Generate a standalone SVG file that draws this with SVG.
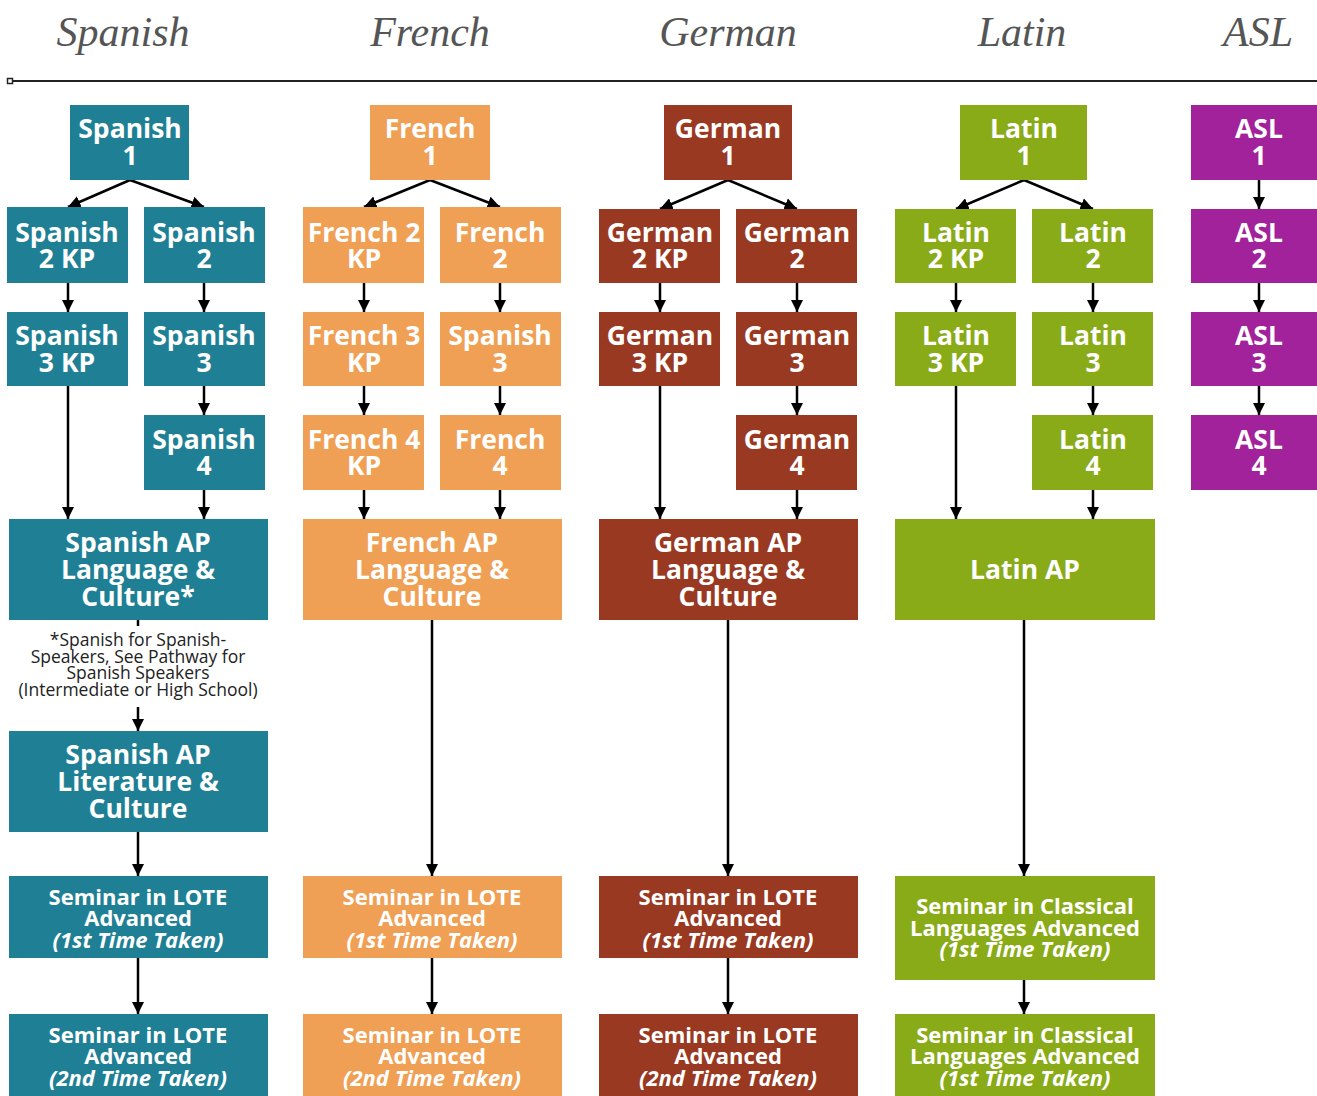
<svg xmlns="http://www.w3.org/2000/svg" width="1317" height="1096" viewBox="0 0 1317 1096">
<defs>
<marker id="ah" viewBox="0 0 10 10" refX="10" refY="5" markerWidth="5" markerHeight="5" orient="auto" markerUnits="strokeWidth">
<path d="M0,0 L10,5 L0,10 z" fill="#000"/>
</marker>
<style>
.sp{fill:#1f7f94}.fr{fill:#f0a055}.ge{fill:#993921}.la{fill:#8aab18}.as{fill:#a1229b}
.t{font-family:"Open Sans","Noto Sans",sans-serif;font-weight:700;font-size:26.5px;fill:#fff;text-anchor:middle}
.s{font-family:"Open Sans","Noto Sans",sans-serif;font-weight:700;font-size:22px;fill:#fff;text-anchor:middle}
.i{font-style:italic}
.h{font-family:"Liberation Serif","DejaVu Serif",serif;font-style:italic;font-size:42px;fill:#555;text-anchor:middle}
.n{font-family:"Open Sans","Noto Sans",sans-serif;font-size:17.5px;fill:#222;text-anchor:middle}
.c line{stroke:#000;stroke-width:2.5;marker-end:url(#ah)}
</style>
</defs>
<rect width="1317" height="1096" fill="#fff"/>
<g id="headers">
<text class="h" x="123" y="46">Spanish</text>
<text class="h" x="430" y="46">French</text>
<text class="h" x="728" y="46">German</text>
<text class="h" x="1022" y="46">Latin</text>
<text class="h" x="1258" y="46">ASL</text>
<line x1="10" y1="81" x2="1317" y2="81" stroke="#222" stroke-width="2"/>
<rect x="7.5" y="78.5" width="5" height="5" fill="#fff" stroke="#222" stroke-width="1.5"/>
</g>
<g class="c" id="connectors">
<line x1="130" y1="180" x2="68" y2="207"/><line x1="130" y1="180" x2="204" y2="207"/>
<line x1="68" y1="283" x2="68" y2="312"/><line x1="204" y1="283" x2="204" y2="312"/>
<line x1="204" y1="386" x2="204" y2="415"/>
<line x1="68" y1="386" x2="68" y2="519"/><line x1="204" y1="490" x2="204" y2="519"/>
<line x1="138" y1="620" x2="138" y2="626" style="marker-end:none"/>
<line x1="138" y1="707" x2="138" y2="731"/>
<line x1="138" y1="832" x2="138" y2="876"/>
<line x1="138" y1="958" x2="138" y2="1014"/>
<line x1="430" y1="180" x2="364" y2="207"/><line x1="430" y1="180" x2="500" y2="207"/>
<line x1="364" y1="283" x2="364" y2="312"/><line x1="500" y1="283" x2="500" y2="312"/>
<line x1="364" y1="386" x2="364" y2="415"/><line x1="500" y1="386" x2="500" y2="415"/>
<line x1="364" y1="490" x2="364" y2="519"/><line x1="500" y1="490" x2="500" y2="519"/>
<line x1="432" y1="620" x2="432" y2="876"/>
<line x1="432" y1="958" x2="432" y2="1014"/>
<line x1="728" y1="180" x2="660" y2="209"/><line x1="728" y1="180" x2="797" y2="209"/>
<line x1="660" y1="283" x2="660" y2="312"/><line x1="797" y1="283" x2="797" y2="312"/>
<line x1="797" y1="386" x2="797" y2="415"/>
<line x1="660" y1="386" x2="660" y2="519"/><line x1="797" y1="490" x2="797" y2="519"/>
<line x1="728" y1="620" x2="728" y2="876"/>
<line x1="728" y1="958" x2="728" y2="1014"/>
<line x1="1024" y1="180" x2="956" y2="209"/><line x1="1024" y1="180" x2="1093" y2="209"/>
<line x1="956" y1="283" x2="956" y2="312"/><line x1="1093" y1="283" x2="1093" y2="312"/>
<line x1="1093" y1="386" x2="1093" y2="415"/>
<line x1="956" y1="386" x2="956" y2="519"/><line x1="1093" y1="490" x2="1093" y2="519"/>
<line x1="1024" y1="620" x2="1024" y2="876"/>
<line x1="1024" y1="980" x2="1024" y2="1014"/>
<line x1="1259" y1="180" x2="1259" y2="209"/><line x1="1259" y1="283" x2="1259" y2="312"/><line x1="1259" y1="386" x2="1259" y2="415"/>
</g>
<!-- Spanish -->
<g id="spanish1"><rect class="sp" x="70" y="105" width="119" height="75"/><text class="t" x="130" y="138">Spanish</text><text class="t" x="130" y="165">1</text></g>
<g id="spanish2kp"><rect class="sp" x="7" y="207" width="121" height="76"/><text class="t" x="67" y="242">Spanish</text><text class="t" x="67" y="268">2 KP</text></g>
<g id="spanish2"><rect class="sp" x="144" y="207" width="121" height="76"/><text class="t" x="204" y="242">Spanish</text><text class="t" x="204" y="268">2</text></g>
<g id="spanish3kp"><rect class="sp" x="7" y="312" width="121" height="74"/><text class="t" x="67" y="345">Spanish</text><text class="t" x="67" y="372">3 KP</text></g>
<g id="spanish3"><rect class="sp" x="144" y="312" width="121" height="74"/><text class="t" x="204" y="345">Spanish</text><text class="t" x="204" y="372">3</text></g>
<g id="spanish4"><rect class="sp" x="144" y="415" width="121" height="75"/><text class="t" x="204" y="449">Spanish</text><text class="t" x="204" y="475">4</text></g>
<g id="spanishAP"><rect class="sp" x="9" y="519" width="259" height="101"/><text class="t" x="138" y="552">Spanish AP</text><text class="t" x="138" y="579">Language &amp;</text><text class="t" x="138" y="606">Culture*</text></g>
<g id="note"><text class="n" x="138" y="646">*Spanish for Spanish-</text><text class="n" x="138" y="663">Speakers, See Pathway for</text><text class="n" x="138" y="679">Spanish Speakers</text><text class="n" x="138" y="696">(Intermediate or High School)</text></g>
<g id="spanishLit"><rect class="sp" x="9" y="731" width="259" height="101"/><text class="t" x="138" y="764">Spanish AP</text><text class="t" x="138" y="791">Literature &amp;</text><text class="t" x="138" y="818">Culture</text></g>
<g id="spanishSem1"><rect class="sp" x="9" y="876" width="259" height="82"/><text class="s" x="138" y="905">Seminar in LOTE</text><text class="s" x="138" y="926">Advanced</text><text class="s i" x="138" y="948">(1st Time Taken)</text></g>
<g id="spanishSem2"><rect class="sp" x="9" y="1014" width="259" height="82"/><text class="s" x="138" y="1043">Seminar in LOTE</text><text class="s" x="138" y="1064">Advanced</text><text class="s i" x="138" y="1086">(2nd Time Taken)</text></g>
<!-- French -->
<g id="french1"><rect class="fr" x="370" y="105" width="120" height="75"/><text class="t" x="430" y="138">French</text><text class="t" x="430" y="165">1</text></g>
<g id="french2kp"><rect class="fr" x="303" y="207" width="121" height="76"/><text class="t" x="364" y="242">French 2</text><text class="t" x="364" y="268">KP</text></g>
<g id="french2"><rect class="fr" x="440" y="207" width="121" height="76"/><text class="t" x="500" y="242">French</text><text class="t" x="500" y="268">2</text></g>
<g id="french3kp"><rect class="fr" x="303" y="312" width="121" height="74"/><text class="t" x="364" y="345">French 3</text><text class="t" x="364" y="372">KP</text></g>
<g id="french3"><rect class="fr" x="440" y="312" width="121" height="74"/><text class="t" x="500" y="345">Spanish</text><text class="t" x="500" y="372">3</text></g>
<g id="french4kp"><rect class="fr" x="303" y="415" width="121" height="75"/><text class="t" x="364" y="449">French 4</text><text class="t" x="364" y="475">KP</text></g>
<g id="french4"><rect class="fr" x="440" y="415" width="121" height="75"/><text class="t" x="500" y="449">French</text><text class="t" x="500" y="475">4</text></g>
<g id="frenchAP"><rect class="fr" x="303" y="519" width="259" height="101"/><text class="t" x="432" y="552">French AP</text><text class="t" x="432" y="579">Language &amp;</text><text class="t" x="432" y="606">Culture</text></g>
<g id="frenchSem1"><rect class="fr" x="303" y="876" width="259" height="82"/><text class="s" x="432" y="905">Seminar in LOTE</text><text class="s" x="432" y="926">Advanced</text><text class="s i" x="432" y="948">(1st Time Taken)</text></g>
<g id="frenchSem2"><rect class="fr" x="303" y="1014" width="259" height="82"/><text class="s" x="432" y="1043">Seminar in LOTE</text><text class="s" x="432" y="1064">Advanced</text><text class="s i" x="432" y="1086">(2nd Time Taken)</text></g>
<!-- German -->
<g id="german1"><rect class="ge" x="664" y="105" width="128" height="75"/><text class="t" x="728" y="138">German</text><text class="t" x="728" y="165">1</text></g>
<g id="german2kp"><rect class="ge" x="599" y="209" width="121" height="74"/><text class="t" x="660" y="242">German</text><text class="t" x="660" y="268">2 KP</text></g>
<g id="german2"><rect class="ge" x="736" y="209" width="121" height="74"/><text class="t" x="797" y="242">German</text><text class="t" x="797" y="268">2</text></g>
<g id="german3kp"><rect class="ge" x="599" y="312" width="121" height="74"/><text class="t" x="660" y="345">German</text><text class="t" x="660" y="372">3 KP</text></g>
<g id="german3"><rect class="ge" x="736" y="312" width="121" height="74"/><text class="t" x="797" y="345">German</text><text class="t" x="797" y="372">3</text></g>
<g id="german4"><rect class="ge" x="736" y="415" width="121" height="75"/><text class="t" x="797" y="449">German</text><text class="t" x="797" y="475">4</text></g>
<g id="germanAP"><rect class="ge" x="599" y="519" width="259" height="101"/><text class="t" x="728" y="552">German AP</text><text class="t" x="728" y="579">Language &amp;</text><text class="t" x="728" y="606">Culture</text></g>
<g id="germanSem1"><rect class="ge" x="599" y="876" width="259" height="82"/><text class="s" x="728" y="905">Seminar in LOTE</text><text class="s" x="728" y="926">Advanced</text><text class="s i" x="728" y="948">(1st Time Taken)</text></g>
<g id="germanSem2"><rect class="ge" x="599" y="1014" width="259" height="82"/><text class="s" x="728" y="1043">Seminar in LOTE</text><text class="s" x="728" y="1064">Advanced</text><text class="s i" x="728" y="1086">(2nd Time Taken)</text></g>
<!-- Latin -->
<g id="latin1"><rect class="la" x="960" y="105" width="127" height="75"/><text class="t" x="1024" y="138">Latin</text><text class="t" x="1024" y="165">1</text></g>
<g id="latin2kp"><rect class="la" x="895" y="209" width="121" height="74"/><text class="t" x="956" y="242">Latin</text><text class="t" x="956" y="268">2 KP</text></g>
<g id="latin2"><rect class="la" x="1032" y="209" width="121" height="74"/><text class="t" x="1093" y="242">Latin</text><text class="t" x="1093" y="268">2</text></g>
<g id="latin3kp"><rect class="la" x="895" y="312" width="121" height="74"/><text class="t" x="956" y="345">Latin</text><text class="t" x="956" y="372">3 KP</text></g>
<g id="latin3"><rect class="la" x="1032" y="312" width="121" height="74"/><text class="t" x="1093" y="345">Latin</text><text class="t" x="1093" y="372">3</text></g>
<g id="latin4"><rect class="la" x="1032" y="415" width="121" height="75"/><text class="t" x="1093" y="449">Latin</text><text class="t" x="1093" y="475">4</text></g>
<g id="latinAP"><rect class="la" x="895" y="519" width="260" height="101"/><text class="t" x="1025" y="579">Latin AP</text></g>
<g id="latinSem1"><rect class="la" x="895" y="876" width="260" height="104"/><text class="s" x="1025" y="914">Seminar in Classical</text><text class="s" x="1025" y="936">Languages Advanced</text><text class="s i" x="1025" y="957">(1st Time Taken)</text></g>
<g id="latinSem2"><rect class="la" x="895" y="1014" width="260" height="82"/><text class="s" x="1025" y="1043">Seminar in Classical</text><text class="s" x="1025" y="1064">Languages Advanced</text><text class="s i" x="1025" y="1086">(1st Time Taken)</text></g>
<!-- ASL -->
<g id="asl1"><rect class="as" x="1191" y="105" width="126" height="75"/><text class="t" x="1259" y="138">ASL</text><text class="t" x="1259" y="165">1</text></g>
<g id="asl2"><rect class="as" x="1191" y="209" width="126" height="74"/><text class="t" x="1259" y="242">ASL</text><text class="t" x="1259" y="268">2</text></g>
<g id="asl3"><rect class="as" x="1191" y="312" width="126" height="74"/><text class="t" x="1259" y="345">ASL</text><text class="t" x="1259" y="372">3</text></g>
<g id="asl4"><rect class="as" x="1191" y="415" width="126" height="75"/><text class="t" x="1259" y="449">ASL</text><text class="t" x="1259" y="475">4</text></g>
</svg>
